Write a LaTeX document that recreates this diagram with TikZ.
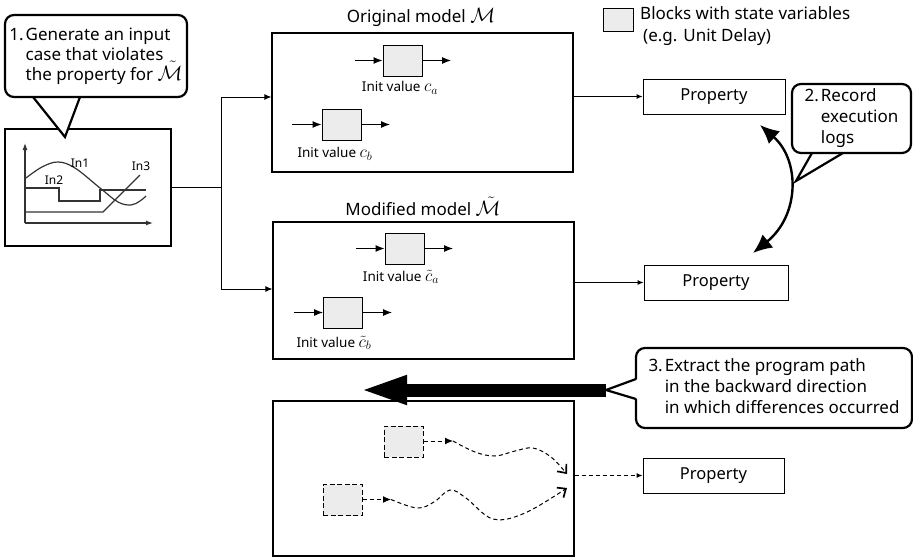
\documentclass[tikz,border=0pt]{standalone}
\usepackage{fontspec}
\setmainfont{Noto Sans}
\usetikzlibrary{arrows.meta}
\newcommand{\largemath}[1]{{\fontsize{20}{20}\selectfont$#1$}}
\begin{document}
\begin{tikzpicture}[x=1pt,y=-1pt,
  txt/.style={font=\fontsize{17}{20}\selectfont, inner sep=0pt},
  small/.style={font=\fontsize{13.5}{15}\selectfont, inner sep=0pt},
  mbox/.style={draw, line width=1.1pt, minimum width=301pt, inner sep=0pt},
  blk/.style={draw, line width=1pt, fill=gray!15, minimum width=39pt, minimum height=31pt, inner sep=0pt},
  dblk/.style={blk, dash pattern=on 5pt off 2.5pt},
  prop/.style={draw, line width=0.8pt, minimum width=142pt, minimum height=35pt, inner sep=0pt, font=\fontsize{16.5}{18}\selectfont},
  callout/.style={draw, line width=2.2pt, rounded corners=9pt, fill=white, inner sep=0pt, font=\fontsize{17}{20}\selectfont},
  tail/.style={line width=2.2pt, line join=miter},
  conn/.style={line width=1pt},
  arr/.style={conn, -{Latex[length=7pt,width=6pt]}},
  barr/.style={line width=1.1pt, -{Latex[length=9pt,width=7pt]}},
  dline/.style={line width=1pt, dash pattern=on 4pt off 3pt},
  graph/.style={line width=1.2pt, draw=black!80},
  lbl/.style={font=\fontsize{12}{14}\selectfont, inner sep=0pt},
]
\useasboundingbox (0,0) rectangle (913,557);

% ---------- input box ----------
\node[draw, line width=1.1pt, minimum width=166pt, minimum height=117pt, inner sep=0pt] (inp) at (88,187.5) {};
\draw[graph, -{Latex[length=7pt,width=5pt]}] (25,223) -- (25,143);
\draw[graph, -{Latex[length=7pt,width=5pt]}] (25,223) -- (153,223);
\draw[graph] plot[smooth, tension=0.6] coordinates {(26,178) (42,167) (58,162) (75,168) (100,188) (118,202) (131,205) (140,201) (146,196)};
\draw[graph] (25,188) -- (59,188) -- (59,201) -- (100,201) -- (100,190) -- (146,190);
\draw[graph] (25,212) -- (103,212) -- (140,175);
\node[lbl] (l1) at (80,163) {In1};
\node[lbl] (l2) at (54,180) {In2};
\node[lbl] (l3) at (141,166) {In3};

% ---------- callout 1 ----------
\node[callout, minimum width=182pt, minimum height=82pt] (c1) at (96,56)
  {\begin{tabular}{@{}l@{\hspace{2pt}}l@{}}1.&Generate an input\\&case that violates\\&the property for \smash{\largemath{\tilde{\mathcal{M}}}}\end{tabular}};
\coordinate (c1a) at (33,97);
\coordinate (c1t) at (65,137);
\coordinate (c1b) at (80,97);
\fill[white] ([yshift=-2pt]c1a) -- (c1t) -- ([yshift=-2pt]c1b) -- cycle;
\draw[tail] (c1a) -- (c1t) -- (c1b);

% ---------- models ----------
\node[mbox, minimum height=139pt] (orig) at (422.5,102.5) {};
\node[txt] (origt) at (421,17) {Original model \largemath{\mathcal{M}}};
\node[blk] (oa) at (402.5,60.5) {};
\node[blk] (ob) at (341.5,124.5) {};
\coordinate (oai) at (355,60.5);
\coordinate (oao) at (451,60.5);
\coordinate (obi) at (292,124.5);
\coordinate (obo) at (390,124.5);
\draw[barr] (oai) -- (oa.west);
\draw[barr] (oa.east) -- (oao);
\draw[barr] (obi) -- (ob.west);
\draw[barr] (ob.east) -- (obo);
\node[small] (oal) at (400,88) {Init value {\fontsize{17}{17}\selectfont$c_a$}};
\node[small] (obl) at (335,154) {Init value {\fontsize{17}{17}\selectfont$c_b$}};

\node[mbox, minimum height=137pt] (mod) at (423.5,290.5) {};
\node[txt] (modt) at (423,206) {Modified model \largemath{\tilde{\mathcal{M}}}};
\node[blk] (ma) at (404.5,248.5) {};
\node[blk] (mb) at (343,312.5) {};
\coordinate (mai) at (356,248.5);
\coordinate (mao) at (453,248.5);
\coordinate (mbi) at (294,312.5);
\coordinate (mbo) at (392,312.5);
\draw[barr] (mai) -- (ma.west);
\draw[barr] (ma.east) -- (mao);
\draw[barr] (mbi) -- (mb.west);
\draw[barr] (mb.east) -- (mbo);
\node[small] (mal) at (401,277) {Init value {\fontsize{17}{17}\selectfont$\tilde{c}_a$}};
\node[small] (mbl) at (334,343) {Init value {\fontsize{17}{17}\selectfont$\tilde{c}_b$}};

% ---------- input connectors ----------
\coordinate (j0) at (221,187.5);
\coordinate (j1) at (221,97);
\coordinate (j2) at (221,289);
\draw[conn] (inp.east) -- (j0);
\draw[conn] (j1) -- (j2);
\draw[arr] (j1) -- (j1 -| orig.west);
\draw[arr] (j2) -- (j2 -| mod.west);

% ---------- properties ----------
\node[prop] (p1) at (714,96.5) {Property};
\node[prop, minimum width=144pt] (p2) at (716,282.5) {Property};
\node[prop, minimum width=141pt] (p3) at (713.5,475.5) {Property};
\draw[conn, -{Latex[length=6pt,width=5pt]}] (orig.east |- p1) -- (p1.west);
\draw[conn, -{Latex[length=6pt,width=5pt]}] (mod.east |- p2) -- (p2.west);

% ---------- legend ----------
\node[blk, minimum width=30pt, minimum height=23pt] (leg) at (618,19.5) {};
\node[txt, anchor=west, align=left, font=\fontsize{17}{22}\selectfont] (legt) at (640,26) {Blocks with state variables\\\hspace{3pt}(e.g. Unit Delay)};

% ---------- callout 2 & double arrow ----------
\coordinate (d1) at (760,125);
\coordinate (d2) at (753,253);
\draw[line width=2.4pt, {Latex[length=19pt,width=17pt]}-{Latex[length=19pt,width=17pt]}] (d1) .. controls (800,160) and (800,215) .. (d2);
\node[callout, minimum width=119pt, minimum height=69pt] (c2) at (851.5,118.5)
  {\begin{tabular}{@{}l@{\hspace{2pt}}l@{}}2.&Record\\[1pt]&execution\\[1pt]&logs\end{tabular}};
\coordinate (c2a) at (812,153);
\coordinate (c2t) at (796,181);
\coordinate (c2b) at (843,153);
\fill[white] ([yshift=-2pt]c2a) -- (c2t) -- ([yshift=-2pt]c2b) -- cycle;
\draw[tail] (c2a) -- (c2t) -- (c2b);

% ---------- bottom ----------
\node[mbox, minimum height=155pt] (bot) at (423.5,478.5) {};
\coordinate (t3) at (606,390);
\coordinate (e3) at (359,390);
\draw[line width=13pt, -{Triangle[length=48pt,width=26pt]}] (t3) -- (e3);
\node[callout, minimum width=276pt, minimum height=80pt] (c3) at (774,388)
  {\begin{tabular}{@{}l@{\hspace{2pt}}l@{}}3.&Extract the program path\\[1pt]&in the backward direction\\[1pt]&in which differences occurred\end{tabular}};
\coordinate (c3a) at (636,379);
\coordinate (c3b) at (636,399);
\fill[white] ([xshift=2pt]c3a) -- (t3) -- ([xshift=2pt]c3b) -- cycle;
\draw[tail] (c3a) -- (t3) -- (c3b);

\node[dblk] (da) at (403.5,441.5) {};
\node[dblk] (db) at (342.5,500) {};
\coordinate (dao) at (453,441);
\coordinate (dbo) at (391,499.5);
\draw[dline, -{Latex[length=8pt,width=7pt]}] (da.east |- dao) -- (dao);
\draw[dline, -{Latex[length=8pt,width=7pt]}] (db.east |- dbo) -- (dbo);
\draw[dline, -{Straight Barb[length=7pt,width=12pt,line width=1.7pt]}] plot[smooth, tension=0.6] coordinates {(dao) (475,452) (495,456) (515,451) (533,448) (551,457) (567,474)};
\draw[dline, -{Straight Barb[length=7pt,width=12pt,line width=1.7pt]}] plot[smooth, tension=0.6] coordinates {(dbo) (417,508) (434,502) (450,490) (466,498) (493,519) (525,513) (567,488)};
\draw[dline, -{Latex[length=6pt,width=5pt]}] (bot.east |- p3) -- (p3.west);
\end{tikzpicture}
\end{document}
